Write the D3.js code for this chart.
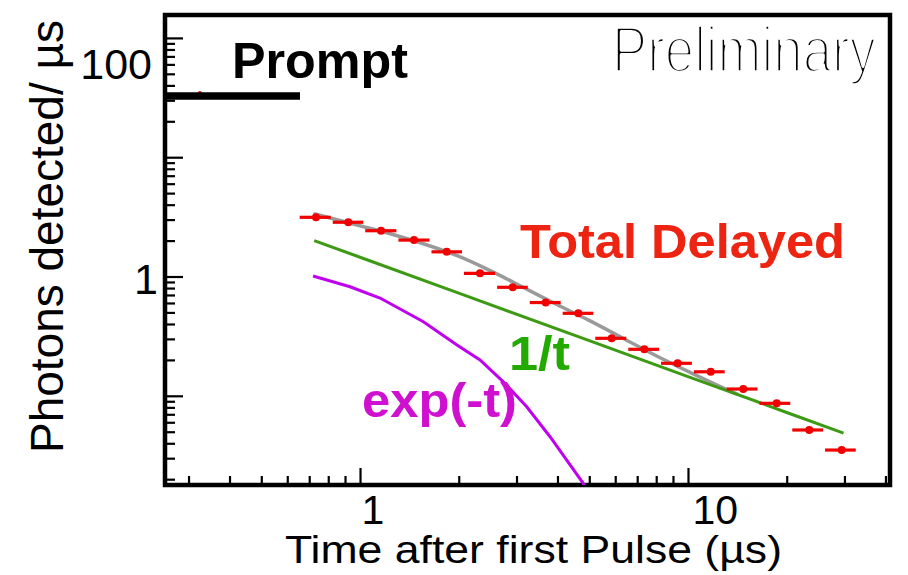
<!DOCTYPE html>
<html>
<head>
<meta charset="utf-8">
<script src="https://cdn.jsdelivr.net/npm/d3@7/dist/d3.min.js"></script>
<style>
  html, body { margin: 0; padding: 0; background: #fff; }
  svg { display: block; }
  text { font-family: "Liberation Sans", Arial, Helvetica, sans-serif; }
</style>
</head>
<body>
<svg id="chart" width="908" height="575"></svg>
<script>
// Delayed photon emission after the first pulse (log-log)
const binCenters = [0.734, 0.921, 1.159, 1.461, 1.838, 2.322, 2.921, 3.683, 4.63, 5.852, 7.36, 9.30, 11.73, 14.74, 18.64, 23.43, 29.42];
const binEdges   = [0.65, 0.82, 1.03, 1.30, 1.64, 2.06, 2.60, 3.27, 4.12, 5.18, 6.53, 8.22, 10.35, 13.03, 16.4, 20.65, 26.0, 32.7];
const delayedCounts = [3.135, 2.85, 2.42, 2.02, 1.61, 1.064, 0.812, 0.605, 0.4915, 0.3034, 0.2453, 0.1873, 0.159, 0.114, 0.0865, 0.0517, 0.0351];

// prompt bin
const promptRange = [0.2543, 0.656];
const promptValue = 32.6;
const promptMarkerT = 0.325;

// fitted components
const totalFitT = [0.729, 1.0, 1.259, 1.585, 1.995, 2.512, 3.162, 3.981, 5.012, 6.31, 7.943, 10.0, 12.59, 14.13];
const totalFitV = [3.342, 2.661, 2.249, 1.854, 1.479, 1.109, 0.804, 0.582, 0.4266, 0.3055, 0.2188, 0.1603, 0.1189, 0.1035];
const inverseT  = [0.725, 1.0, 2.0, 5.0, 10.0, 20.0, 29.8];
const inverseV  = [2.0, 1.45, 0.725, 0.29, 0.145, 0.0725, 0.0487];
const expT = [0.719, 0.932, 1.151, 1.56, 1.975, 2.322, 2.735, 3.223, 3.796, 4.786, 5.2];
const expV = [1.01, 0.821, 0.66, 0.418, 0.2666, 0.1995, 0.131, 0.081, 0.0454, 0.01858, 0.0113];

// axis ticks
const xMajorTicks = [1, 10];
const xMinorTicks = [0.3, 0.4, 0.5, 0.6, 0.7, 0.8, 0.9, 2, 3, 4, 5, 6, 7, 8, 9, 20, 30, 40];
const yMajorTicks = [0.1, 1, 10, 100];
const yMinorTicks = [0.02, 0.03, 0.04, 0.05, 0.06, 0.07, 0.08, 0.09,
                     0.2, 0.3, 0.4, 0.5, 0.6, 0.7, 0.8, 0.9,
                     2, 3, 4, 5, 6, 7, 8, 9,
                     20, 30, 40, 50, 60, 70, 80, 90];
const xTickLabels = [1, 10];
const yTickLabels = [1, 100];

const frame = { left: 165, right: 890, top: 15, bottom: 485 };
const svg = d3.select("#chart");

const x = d3.scaleLog().domain([0.2543, 41.3]).range([frame.left, frame.right]);
const y = d3.scaleLog().domain([0.01788, 155.6]).range([frame.bottom, frame.top]);

svg.append("defs").append("clipPath").attr("id", "plot-clip")
  .append("rect")
  .attr("x", frame.left).attr("y", frame.top)
  .attr("width", frame.right - frame.left).attr("height", frame.bottom - frame.top);

// ticks (pointing inward, ROOT style)
function styleAxis(g) {
  g.select(".domain").remove();
  g.selectAll(".tick line").attr("stroke", "#000").attr("stroke-width", 2.2);
}

svg.append("g").attr("transform", `translate(0,${frame.bottom})`)
  .call(d3.axisBottom(x).tickValues(xMinorTicks).tickSize(-9).tickFormat(""))
  .call(styleAxis);

const xMajor = svg.append("g").attr("transform", `translate(0,${frame.bottom})`)
  .call(d3.axisBottom(x).tickValues(xMajorTicks).tickSize(-17).tickPadding(10)
        .tickFormat(d => xTickLabels.includes(d) ? d3.format("~g")(d) : ""))
  .call(styleAxis);
xMajor.selectAll(".tick text")
  .attr("text-anchor", "start").attr("x", d => d === 10 ? 4 : 1)
  .attr("fill", "#000").attr("font-size", 41)
  .attr("font-family", "'Liberation Sans', Arial, sans-serif");

svg.append("g").attr("transform", `translate(${frame.left},0)`)
  .call(d3.axisLeft(y).tickValues(yMinorTicks).tickSize(-10).tickFormat(""))
  .call(styleAxis);

const yMajor = svg.append("g").attr("transform", `translate(${frame.left},0)`)
  .call(d3.axisLeft(y).tickValues(yMajorTicks).tickSize(-18).tickPadding(7)
        .tickFormat(d => yTickLabels.includes(d) ? d3.format("~g")(d) : ""))
  .call(styleAxis);
yMajor.selectAll(".tick text")
  .attr("fill", "#000").attr("font-size", 43)
  .attr("font-family", "'Liberation Sans', Arial, sans-serif")
  .attr("dy", "0.40em")
  .each(function(d) {
    if (d === 100) d3.select(this).attr("x", -13).attr("dy", "0.95em");
  });

// plot frame
svg.append("rect")
  .attr("x", frame.left).attr("y", frame.top)
  .attr("width", frame.right - frame.left).attr("height", frame.bottom - frame.top)
  .attr("fill", "none").attr("stroke", "#000").attr("stroke-width", 4.5);

const plot = svg.append("g").attr("clip-path", "url(#plot-clip)");

const line = d3.line().x(d => x(d[0])).y(d => y(d[1]));
const smooth = d3.line().x(d => x(d[0])).y(d => y(d[1])).curve(d3.curveCatmullRom.alpha(0.5));

// total fit (grey), under the 1/t component
plot.append("path")
  .attr("d", smooth(d3.zip(totalFitT, totalFitV)))
  .attr("fill", "none").attr("stroke", "#9a9a9a").attr("stroke-width", 3.5)
  .attr("stroke-linecap", "round");

// 1/t component
plot.append("path")
  .attr("d", line(d3.zip(inverseT, inverseV)))
  .attr("fill", "none").attr("stroke", "#3d9a14").attr("stroke-width", 3);

// exponential component
plot.append("path")
  .attr("d", line(d3.zip(expT, expV)))
  .attr("fill", "none").attr("stroke", "#c000f0").attr("stroke-width", 3);

// prompt bin
plot.append("circle")
  .attr("cx", x(promptMarkerT)).attr("cy", y(promptValue) - 3).attr("r", 2)
  .attr("fill", "#e00000");
plot.append("line")
  .attr("x1", x(promptRange[0])).attr("x2", x(promptRange[1]))
  .attr("y1", y(promptValue)).attr("y2", y(promptValue))
  .attr("stroke", "#000").attr("stroke-width", 7.5);

// delayed data points with bin-width error bars
const pts = binCenters.map((t, i) => ({ t, v: delayedCounts[i], lo: binEdges[i], hi: binEdges[i + 1] }));
const ptG = plot.append("g");
ptG.selectAll("line").data(pts).join("line")
  .attr("x1", d => x(d.lo) + 1).attr("x2", d => x(d.hi) - 1)
  .attr("y1", d => y(d.v)).attr("y2", d => y(d.v))
  .attr("stroke", "#f00000").attr("stroke-width", 3.2);
ptG.selectAll("circle").data(pts).join("circle")
  .attr("cx", d => x(d.t)).attr("cy", d => y(d.v)).attr("r", 4)
  .attr("fill", "#f00000");

// annotations
svg.append("text").attr("x", 232).attr("y", 78)
  .attr("font-size", 50).attr("font-weight", "bold").attr("fill", "#000")
  .attr("textLength", 176).attr("lengthAdjust", "spacingAndGlyphs")
  .text("Prompt");

svg.append("text").attr("x", 520).attr("y", 258)
  .attr("font-size", 49).attr("font-weight", "bold").attr("fill", "#ee2412")
  .attr("textLength", 325).attr("lengthAdjust", "spacingAndGlyphs")
  .text("Total Delayed");

svg.append("text").attr("x", 509).attr("y", 370)
  .attr("font-size", 49).attr("font-weight", "bold").attr("fill", "#22aa00")
  .attr("textLength", 61).attr("lengthAdjust", "spacingAndGlyphs")
  .text("1/t");

svg.append("text").attr("x", 362).attr("y", 417)
  .attr("font-size", 49).attr("font-weight", "bold").attr("fill", "#d010d0")
  .attr("textLength", 155).attr("lengthAdjust", "spacingAndGlyphs")
  .text("exp(-t)");

// hairline "Preliminary" stamp: regular glyphs thinned by a white outline
svg.append("text").attr("x", 612).attr("y", 72)
  .attr("font-size", 65).attr("fill", "#000")
  .attr("stroke", "#fff").attr("stroke-width", 3.6).attr("stroke-linejoin", "round")
  .attr("textLength", 264).attr("lengthAdjust", "spacingAndGlyphs")
  .text("Preliminary");

// axis titles
svg.append("text").attr("x", 285).attr("y", 563)
  .attr("font-size", 38).attr("fill", "#000")
  .attr("textLength", 497).attr("lengthAdjust", "spacingAndGlyphs")
  .text("Time after first Pulse (µs)");

svg.append("text")
  .attr("transform", "translate(63,453) rotate(-90)")
  .attr("font-size", 46).attr("fill", "#000")
  .attr("textLength", 433).attr("lengthAdjust", "spacingAndGlyphs")
  .text("Photons detected/ µs");
</script>
</body>
</html>
